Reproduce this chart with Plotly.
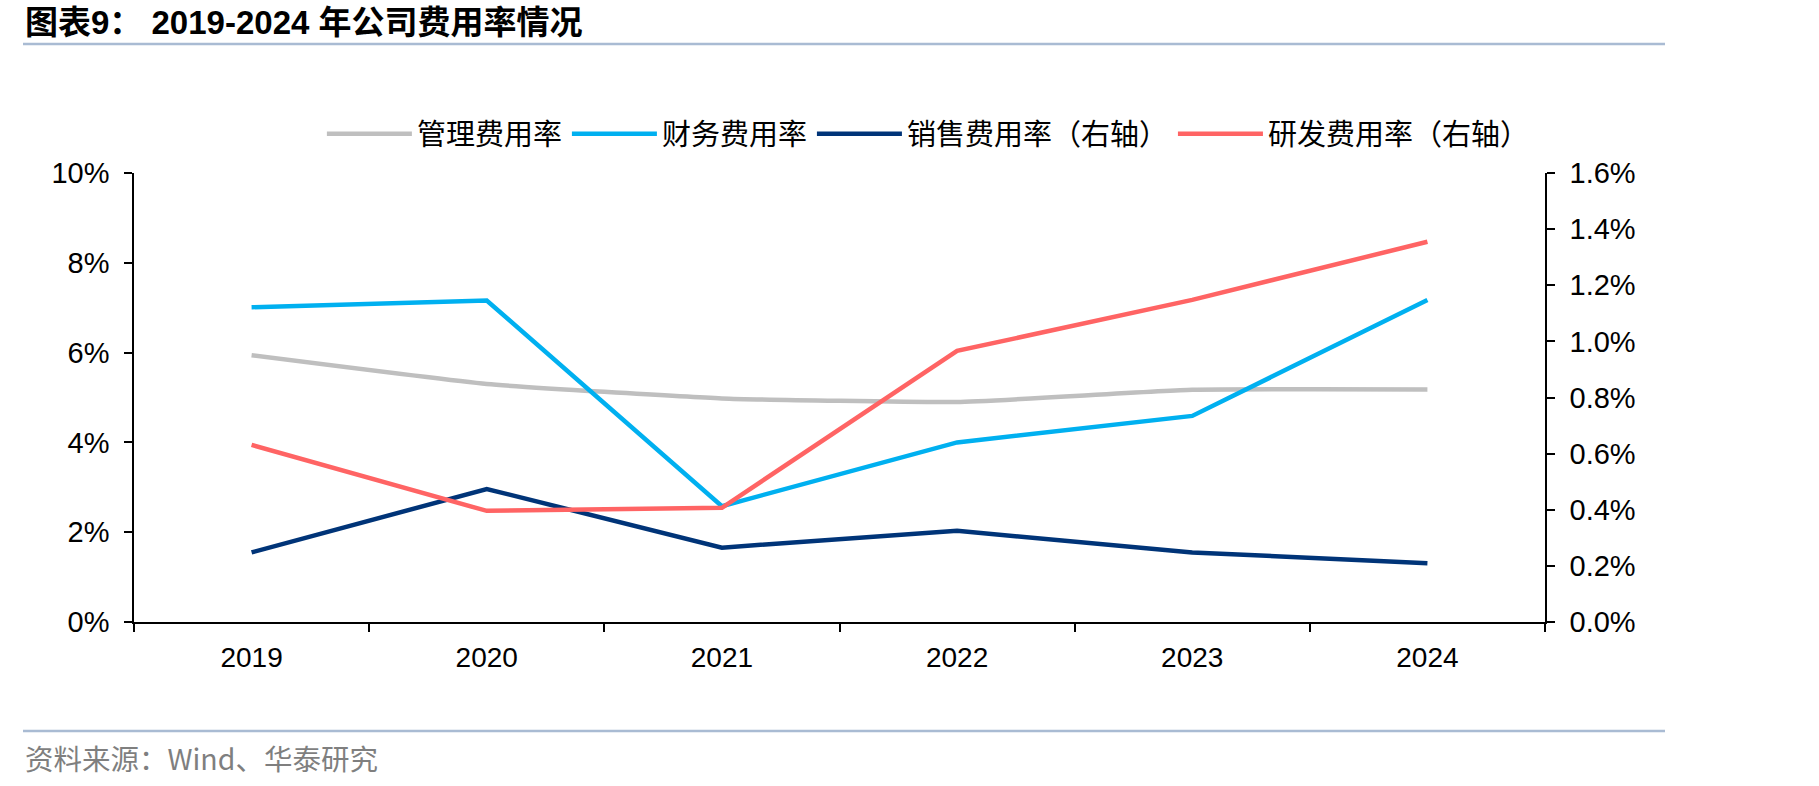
import plotly.graph_objects as go

years = ["2019", "2020", "2021", "2022", "2023", "2024"]
admin_rate = [5.94, 5.30, 4.98, 4.90, 5.17, 5.18]      # 管理费用率 (left, %)
finance_rate = [7.01, 7.16, 2.58, 4.00, 4.59, 7.17]    # 财务费用率 (left, %)
sales_rate = [0.248, 0.474, 0.265, 0.325, 0.248, 0.209]  # 销售费用率 (right, %)
rd_rate = [0.631, 0.396, 0.407, 0.966, 1.148, 1.355]     # 研发费用率 (right, %)

left_ticks = [0, 2, 4, 6, 8, 10]
right_ticks = [0, 0.2, 0.4, 0.6, 0.8, 1.0, 1.2, 1.4, 1.6]
left_labels = [f"{v}%" for v in left_ticks]
right_labels = [f"{v:.1f}%" for v in right_ticks]

FONT = "Liberation Sans, Arial, Noto Sans CJK SC, sans-serif"
CJK = "Noto Sans CJK SC, sans-serif"

fig = go.Figure()
fig.add_trace(go.Scatter(x=years, y=admin_rate, name="管理费用率", mode="lines",
                         line=dict(color="#BFBFBF", width=4.5, shape="spline", smoothing=0.4)))
fig.add_trace(go.Scatter(x=years, y=finance_rate, name="财务费用率", mode="lines",
                         line=dict(color="#00B0F0", width=4.5)))
fig.add_trace(go.Scatter(x=years, y=sales_rate, name="销售费用率（右轴）", mode="lines",
                         line=dict(color="#003478", width=4.5), yaxis="y2"))
fig.add_trace(go.Scatter(x=years, y=rd_rate, name="研发费用率（右轴）", mode="lines",
                         line=dict(color="#FF6464", width=4.5), yaxis="y2"))

axis_common = dict(showline=True, linecolor="black", linewidth=1.5, ticks="outside",
                   ticklen=8, tickcolor="black", tickwidth=1.5, showgrid=False, zeroline=False)

fig.update_layout(
    width=1819, height=786,
    margin=dict(l=134, r=274, t=173, b=164),
    paper_bgcolor="white", plot_bgcolor="white",
    xaxis=dict(type="category", tickson="boundaries", range=[-0.5, 5.5], ticklabelstandoff=10,
               tickfont=dict(family=FONT, size=28, color="black"), **axis_common),
    yaxis=dict(range=[0, 10], tickmode="array", tickvals=left_ticks, ticktext=left_labels,
               ticklabelstandoff=9, tickfont=dict(family=FONT, size=29, color="black"),
               **axis_common),
    yaxis2=dict(range=[0, 1.6], tickmode="array", tickvals=right_ticks, ticktext=right_labels,
                overlaying="y", side="right", ticklabelstandoff=9,
                tickfont=dict(family=FONT, size=29, color="black"), **axis_common),
    legend=dict(orientation="h", x=0.563, xanchor="center", y=1.087, yanchor="middle",
                font=dict(family=CJK, size=29, color="black"), itemwidth=85,
                bgcolor="rgba(0,0,0,0)"),
    showlegend=True,
)

# Title and source text
fig.add_annotation(text="<b>图表9： 2019-2024 年公司费用率情况</b>", xref="paper", yref="paper",
                   x=(23 - 134) / 1411, y=(622 - 23) / 449, xanchor="left", yanchor="middle",
                   showarrow=False, font=dict(family=FONT, size=33, color="black"))
fig.add_annotation(text="资料来源：Wind、华泰研究", xref="paper", yref="paper",
                   x=(23 - 134) / 1411, y=(622 - 757) / 449, xanchor="left", yanchor="middle",
                   showarrow=False, font=dict(family=CJK, size=28.5, color="#7F7F7F"))

# Header / footer rules
for yy in (44, 731):
    fig.add_shape(type="line", xref="paper", yref="paper",
                  x0=(23 - 134) / 1411, x1=(1665 - 134) / 1411,
                  y0=(622 - yy) / 449, y1=(622 - yy) / 449,
                  line=dict(color="#A9BBD3", width=2.5))

fig.write_html("out.html")
